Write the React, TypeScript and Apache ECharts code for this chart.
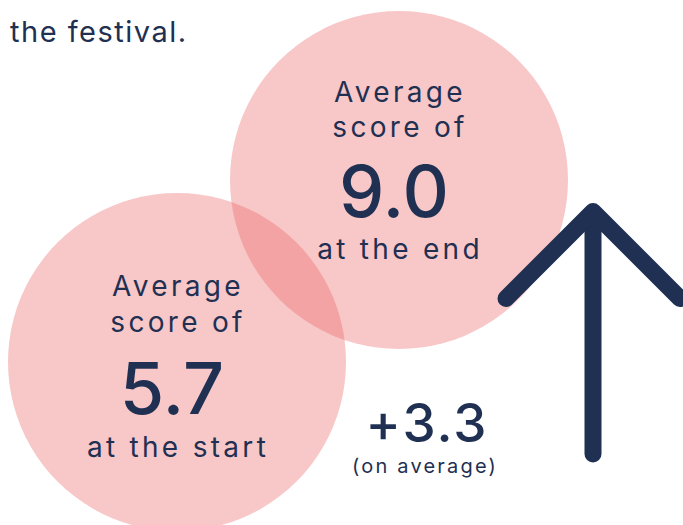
import React, { useEffect, useRef } from "react";
import * as echarts from "echarts";

const categories = ["start", "end"];
const scores = [5.7, 9.0];
const captionsTop = ["Average", "score of"];
const captionsBottom = ["at the start", "at the end"];
const changeLabel = "+3.3";
const changeNote = "(on average)";
const headline = "the festival.";

const NAVY = "#1F3052";
const FONT = "Inter, 'Noto Sans', sans-serif";

export default function App() {
  const ref = useRef<HTMLDivElement>(null);
  useEffect(() => {
    document.body.style.margin = "0";
    const chart = echarts.init(ref.current!, null, { renderer: "svg" });
    // text anchor points (centre x, middle y) for each circle's labels
    const textPos = [
      { x: 178, lines: [285.9, 321.6, 387.4, 446.6] },
      { x: 400, lines: [91.6, 126.9, 190.8, 248.9] },
    ];
    const txt = (text: string, x: number, y: number, size: number, weight = 400, align = "center") => ({
      type: "text",
      x,
      y,
      z: 100,
      silent: true,
      style: {
        text,
        fill: NAVY,
        font: `${weight} ${size}px ${FONT}`,
        align,
        verticalAlign: "middle",
      },
    });
    const graphics: any[] = [];
    scores.forEach((v, i) => {
      const p = textPos[i];
      graphics.push(txt(captionsTop[0], p.x, p.lines[0], 28));
      graphics.push(txt(captionsTop[1], p.x, p.lines[1], 28));
      graphics.push(txt(v.toFixed(1), p.x - 6, p.lines[2], 72, 500));
      graphics.push(txt(captionsBottom[i], p.x, p.lines[3], 28));
    });
    graphics.push(txt(headline, 10, 31, 29, 400, "left"));
    graphics.push(txt(changeLabel, 427, 423, 53, 500));
    graphics.push(txt(changeNote, 425, 466, 20));
    graphics.push({
      type: "line",
      z: 100,
      silent: true,
      shape: { x1: 593, y1: 214, x2: 593, y2: 454 },
      style: { stroke: NAVY, lineWidth: 17, lineCap: "round" },
    });
    graphics.push({
      type: "polyline",
      z: 100,
      silent: true,
      shape: { points: [[506, 298.5], [593, 211.5], [680, 298.5]] },
      style: { stroke: NAVY, lineWidth: 17, lineCap: "round", lineJoin: "round", fill: "none" },
    });

    chart.setOption({
      animation: false,
      grid: { left: 66, width: 444, top: 14.5, bottom: 14 },
      xAxis: { type: "category", data: categories, show: false },
      yAxis: { type: "value", min: 3, max: 12, show: false },
      series: [
        {
          type: "scatter",
          data: scores,
          symbol: "circle",
          symbolSize: 338,
          clip: false,
          silent: true,
          itemStyle: { color: "rgb(236,100,100)", opacity: 0.36 },
        },
      ],
      graphic: graphics,
    });
    return () => chart.dispose();
  }, []);
  return (
    <>
      <style>{`
        #chartbox text[style*="28px"] { letter-spacing: 3.3px; }
        #chartbox text[style*="29px"] { letter-spacing: 1.5px; }
        #chartbox text[style*="20px"] { letter-spacing: 2.2px; }
        #chartbox text[style*="53px"] { letter-spacing: 2px; }
      `}</style>
      <div
        id="chartbox"
        ref={ref}
        style={{ position: "absolute", left: 0, top: 0, width: 683, height: 525, background: "#fff" }}
      />
    </>
  );
}
